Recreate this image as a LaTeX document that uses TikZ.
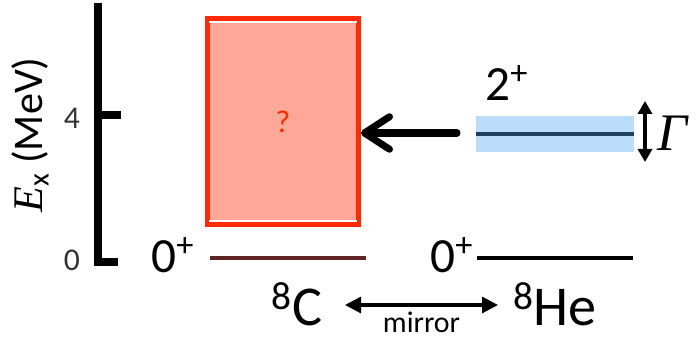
\documentclass[tikz,border=0pt]{standalone}
\usepackage{fontspec}
\setmainfont{Carlito}
\newfontfamily\symbfont{Liberation Serif}
\usetikzlibrary{
    arrows.meta,
    positioning,
    calc
}
\definecolor{lvlred}{HTML}{FF2A00}
\definecolor{lvlsalmon}{HTML}{FFA898}
\definecolor{lvlbrown}{HTML}{5E2525}
\definecolor{lvlblue}{HTML}{BBDDFA}
\definecolor{lvlnavy}{HTML}{1F4060}
\definecolor{textgray}{HTML}{333333}

\begin{document}
\begin{tikzpicture}[
    every node/.style={text=black},
    axisline/.style={
        line width=5pt,
        draw=black
    },
    ticklabel/.style={
        font=\fontsize{18}{20}\selectfont,
        text=textgray
    },
    unknown/.style={
        rectangle,
        minimum width=3.02cm,
        minimum height=4.12cm,
        draw=lvlred,
        fill=lvlsalmon,
        line width=2.8pt,
        font=\fontsize{18}{20}\selectfont,
        text=lvlred
    },
    width/.style={
        rectangle,
        minimum width=3.16cm,
        minimum height=0.72cm,
        inner sep=0pt,
        fill=lvlblue
    },
    level/.style={
        line width=#1,
        line cap=butt
    },
    spin/.style={
        font=\fontsize{28}{32}\selectfont
    },
    nucleus/.style={
        font=\fontsize{32}{36}\selectfont
    },
    arrow/.style={
        -{Straight Barb[length=5mm,width=6.5mm,round]},
        line width=4pt,
        line cap=round
    },
    twoway/.style={
        {Triangle[length=3.2mm,width=3.2mm]}-{Triangle[length=3.2mm,width=3.2mm]},
        line width=1.8pt
    }
]

\useasboundingbox (0,0) rectangle (13.92,6.96);

% =====================================================
% Energy axis
% =====================================================

\coordinate (top) at (1.96,6.90);
\coordinate (bottom) at (1.96,1.72);
\coordinate (foot) at (2.36,1.72);
\coordinate (tick) at (1.96,4.66);
\coordinate (tickend) at (2.42,4.66);

\draw[axisline] (top) -- (bottom) -- (foot);
\draw[axisline] (tick) -- (tickend);

\node[ticklabel] (four) at (1.44,4.60) {4};
\node[ticklabel] (zero) at (1.44,1.76) {0};
\node[rotate=90, font=\fontsize{24}{28}\selectfont] (axis) at (0.60,4.26)
{{\symbfont\itshape E}\textsubscript{x} (MeV)};

% =====================================================
% 8C levels
% =====================================================

\node[unknown] (box) at (5.66,4.53) {?};
\draw[white, line width=0.8pt] ($(box.north west)+(0.08,-0.12)$) -- ($(box.north east)+(-0.08,-0.12)$);
\draw[white, line width=0.8pt] ($(box.south west)+(0.08,0.12)$) -- ($(box.south east)+(-0.08,0.12)$);

\coordinate (cgsl) at (4.20,1.80);
\coordinate (cgsr) at (7.32,1.80);
\draw[level=2.8pt, lvlbrown] (cgsl) -- (cgsr);
\node[spin] (cspin) at (3.46,1.86) {0\textsuperscript{+}};

% =====================================================
% 8He levels
% =====================================================

\node[width] (band) at (11.10,4.28) {};
\draw[level=2.4pt, lvlnavy] (band.west) -- (band.east);
\node[spin] (hespin2) at (10.14,5.30) {2\textsuperscript{+}};

\coordinate (hgsl) at (9.54,1.80);
\coordinate (hgsr) at (12.66,1.80);
\draw[level=2.8pt] (hgsl) -- (hgsr);
\node[spin] (hespin0) at (9.04,1.86) {0\textsuperscript{+}};

\coordinate (gtop) at (12.90,4.94);
\coordinate (gbot) at (12.90,3.72);
\draw[{Triangle[length=2.6mm,width=2.8mm]}-{Triangle[length=2.6mm,width=2.8mm]}, line width=2pt] (gtop) -- (gbot);
\node[font=\fontsize{30}{34}\selectfont\symbfont\itshape] (gamma) at (13.44,4.30) {Γ};

% =====================================================
% Arrows and labels
% =====================================================

\coordinate (tail) at (9.14,4.30);
\draw[arrow] (tail) -- (box.east |- tail);

\node[nucleus] (carbon) at (5.94,0.88) {\textsuperscript{8}C};
\node[nucleus] (helium) at (11.10,0.88) {\textsuperscript{8}He};
\coordinate (ml) at (6.90,0.86);
\coordinate (mr) at (9.96,0.86);
\draw[twoway] (ml) -- node[below=2pt, inner sep=1pt, font=\fontsize{17}{19}\selectfont] {mirror} (mr);

\end{tikzpicture}
\end{document}
